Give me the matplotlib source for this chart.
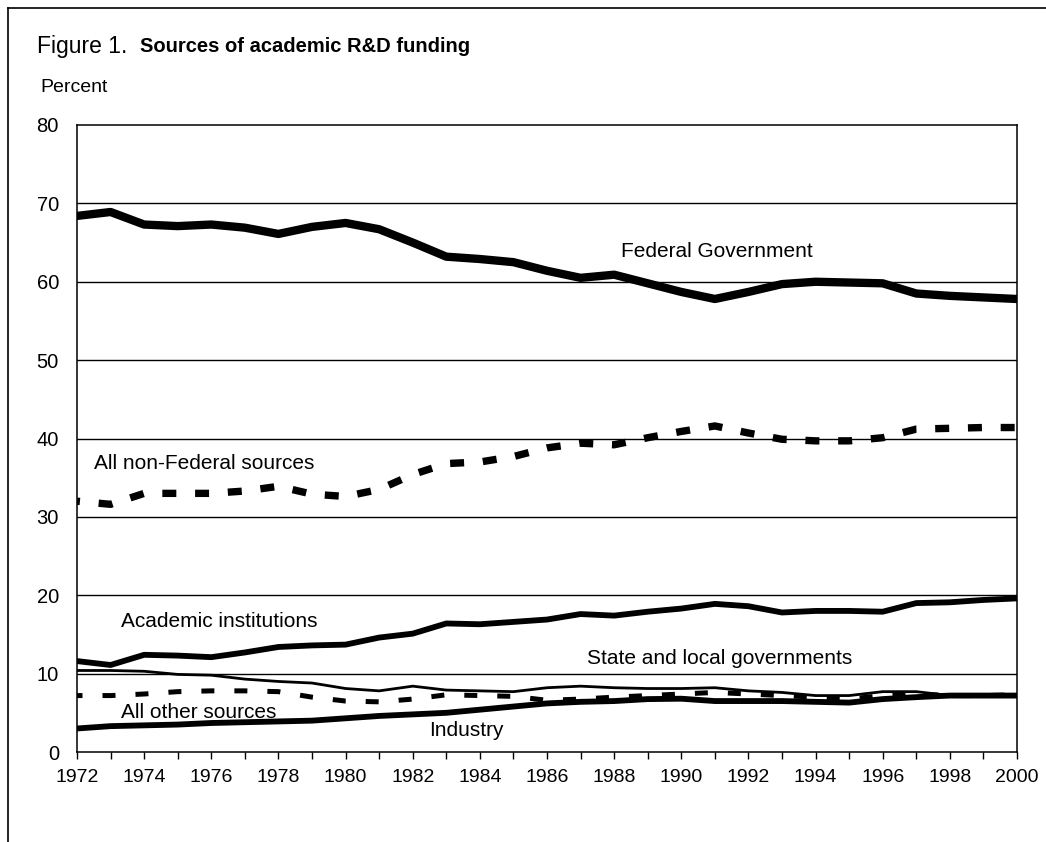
import matplotlib
matplotlib.use("Agg")
import matplotlib.pyplot as plt
from matplotlib import font_manager
from matplotlib.lines import Line2D

years = list(range(1972, 2001))

federal = [68.4, 68.9, 67.3, 67.1, 67.3, 66.9, 66.1, 67.0, 67.5, 66.7, 65.0, 63.2,
           62.9, 62.5, 61.4, 60.5, 60.9, 59.8, 58.7, 57.8, 58.7, 59.7, 60.0, 59.9,
           59.8, 58.5, 58.2, 58.0, 57.8]
non_federal = [32.0, 31.6, 33.0, 33.0, 33.0, 33.3, 33.9, 32.9, 32.6, 33.5, 35.4, 36.8,
               37.0, 37.7, 38.8, 39.4, 39.2, 40.1, 40.9, 41.6, 40.7, 39.9, 39.7, 39.7,
               40.1, 41.2, 41.3, 41.4, 41.4]
academic = [11.6, 11.1, 12.4, 12.3, 12.1, 12.7, 13.4, 13.6, 13.7, 14.6, 15.1, 16.4,
            16.3, 16.6, 16.9, 17.6, 17.4, 17.9, 18.3, 18.9, 18.6, 17.8, 18.0, 18.0,
            17.9, 19.0, 19.1, 19.4, 19.6]
state_local = [10.4, 10.4, 10.3, 9.9, 9.8, 9.3, 9.0, 8.8, 8.1, 7.8, 8.4, 7.9,
               7.8, 7.7, 8.2, 8.4, 8.2, 8.1, 8.1, 8.2, 7.8, 7.6, 7.2, 7.2,
               7.7, 7.7, 7.2, 7.2, 7.2]
all_other = [7.2, 7.2, 7.4, 7.7, 7.8, 7.8, 7.7, 7.0, 6.5, 6.4, 6.75, 7.3,
             7.2, 7.1, 6.6, 6.75, 7.0, 7.2, 7.4, 7.6, 7.4, 7.2, 7.0, 6.75,
             7.2, 7.4, 7.2, 7.2, 7.3]
industry = [3.0, 3.3, 3.4, 3.5, 3.7, 3.8, 3.9, 4.0, 4.3, 4.6, 4.8, 5.0,
            5.4, 5.8, 6.2, 6.4, 6.5, 6.75, 6.8, 6.5, 6.5, 6.5, 6.4, 6.3,
            6.75, 7.0, 7.2, 7.2, 7.2]

y_ticks = [0, 10, 20, 30, 40, 50, 60, 70, 80]
x_ticks = list(range(1972, 2001, 2))

installed = {f.name for f in font_manager.fontManager.ttflist}
fam = "Liberation Sans Narrow" if "Liberation Sans Narrow" in installed else "Liberation Sans"
plt.rcParams['font.family'] = [fam, 'DejaVu Sans']

fig = plt.figure(figsize=(10.46, 8.42), dpi=100)
W, H = 1046, 842
ax = fig.add_axes([77 / W, 1 - 752 / H, (1017 - 77) / W, (752 - 125) / H])

for v in y_ticks[1:-1]:
    ax.axhline(v, color='black', lw=1.0, zorder=1)

ax.plot(years, federal, color='black', lw=6.0, solid_joinstyle='round', zorder=3)
ax.plot(years, non_federal, color='black', lw=5.3, ls=(1.5, (1.9, 2.55)),
        dash_capstyle='butt', zorder=3)
ax.plot(years, academic, color='black', lw=4.2, solid_joinstyle='round', zorder=3)
ax.plot(years, state_local, color='black', lw=2.0, zorder=3)
ax.plot(years, all_other, color='black', lw=3.6, ls=(1.5, (2.6, 4.0)),
        dash_capstyle='butt', zorder=3)
ax.plot(years, industry, color='black', lw=4.2, solid_joinstyle='round', zorder=3)

ax.set_xlim(1972, 2000)
ax.set_ylim(0, 80)
ax.set_yticks(y_ticks)
ax.set_xticks(years, minor=False)
ax.set_xticklabels([str(y) if y in x_ticks else '' for y in years])
ax.tick_params(axis='y', length=0, pad=13, labelsize=14.5)
ax.tick_params(axis='x', length=5, width=1.0, direction='out', pad=7, labelsize=14)
for s in ax.spines.values():
    s.set_linewidth(1.1)

fs = 15
ax.text(1988.2, 63.8, "Federal Government", fontsize=fs, ha='left', va='center')
ax.text(1972.5, 36.8, "All non-Federal sources", fontsize=fs, ha='left', va='center')
ax.text(1973.3, 16.6, "Academic institutions", fontsize=fs, ha='left', va='center')
ax.text(1987.2, 11.9, "State and local governments", fontsize=fs, ha='left', va='center')
ax.text(1973.3, 5.1, "All other sources", fontsize=fs, ha='left', va='center')
ax.text(1982.5, 2.7, "Industry", fontsize=fs, ha='left', va='center')

t1 = fig.text(37 / W, 1 - 47 / H, "Figure 1.  ", fontsize=16.5, ha='left', va='center')
fig.canvas.draw()
ax.annotate("Sources of academic R&D funding", xy=(1, 0.5), xycoords=t1,
            fontsize=14.5, fontweight='bold', ha='left', va='center',
            annotation_clip=False)
fig.text(40 / W, 1 - 87 / H, "Percent", fontsize=14, ha='left', va='center')

fig.add_artist(Line2D([8 / W, 8 / W], [0, 1 - 8 / H], color='black', lw=1.2,
                      transform=fig.transFigure))
fig.add_artist(Line2D([8 / W, 1], [1 - 8 / H, 1 - 8 / H], color='black', lw=1.2,
                      transform=fig.transFigure))

fig.savefig("out.png", dpi=100, facecolor='white')
